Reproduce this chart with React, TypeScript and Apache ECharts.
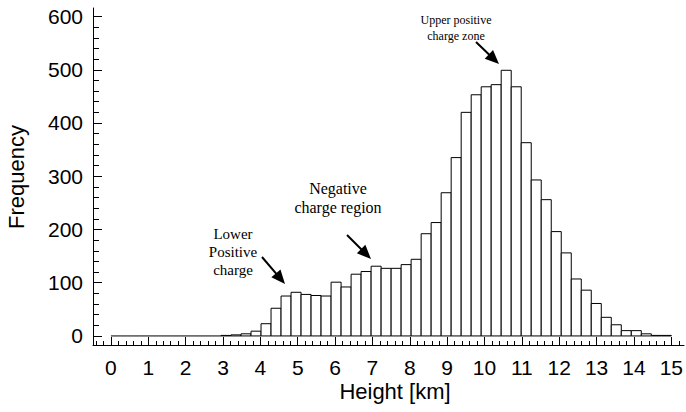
import React, { useEffect, useRef } from "react";
import * as echarts from "echarts";

// Histogram: 56 equal bins between 0 and 15 km
const binCount = 56;
const heightMinKm = 0;
const heightMaxKm = 15;
const frequencies = [
  0, 0, 0, 0, 0, 0, 0, 0, 0, 0, 0,
  1, 2, 4, 9, 23, 52, 75, 82, 78, 76, 75,
  101, 92, 116, 121, 131, 127, 127, 134, 144, 192, 213, 269,
  335, 420, 453, 468, 472, 499, 468, 363, 293, 256, 196, 156, 107,
  86, 61, 35, 21, 10, 10, 4, 1, 1,
];
const xTickLabels = [0, 1, 2, 3, 4, 5, 6, 7, 8, 9, 10, 11, 12, 13, 14, 15];
const yTickLabels = [0, 100, 200, 300, 400, 500, 600];
const xTitle = "Height [km]";
const yTitle = "Frequency";
const annotations = [
  { text: "Upper positive\ncharge zone", x: 456, y: 28, size: 12, lh: 16 },
  { text: "Negative\ncharge region", x: 338, y: 198, size: 16, lh: 19 },
  { text: "Lower\nPositive\ncharge", x: 233, y: 252, size: 15, lh: 18 },
];
const arrows = [
  { tail: [476, 42], tip: [499, 64] },
  { tail: [347, 235], tip: [371, 259] },
  { tail: [262, 257], tip: [285, 284] },
];

export default function App() {
  const ref = useRef<HTMLDivElement>(null);
  useEffect(() => {
    document.body.style.margin = "0";
    const chart = echarts.init(ref.current!, null, { renderer: "svg" });
    const binW = (heightMaxKm - heightMinKm) / binCount;
    const data = frequencies.map((f, i) => [heightMinKm + i * binW, heightMinKm + (i + 1) * binW, f]);
    const xMin = -0.48, xMax = 15.34, yMin = -17, yMax = 616;
    const xMinor: number[] = [];
    for (let i = -2; i <= 76; i++) xMinor.push(Math.round(i * 2) / 10);
    const yMinor: number[] = [];
    for (let i = 0; i <= 30; i++) yMinor.push(i * 20);

    const graphics: any[] = [];
    annotations.forEach((a) => {
      graphics.push({
        type: "text", x: a.x, y: a.y,
        style: {
          text: a.text, textAlign: "center", textVerticalAlign: "middle",
          fontFamily: "Liberation Serif", fontSize: a.size, lineHeight: a.lh, fill: "#000",
        },
      });
    });
    arrows.forEach((ar) => {
      const dx = ar.tip[0] - ar.tail[0], dy = ar.tip[1] - ar.tail[1];
      const L = Math.sqrt(dx * dx + dy * dy);
      const ux = dx / L, uy = dy / L;
      const len = 14, half = 6;
      const bx = ar.tip[0] - ux * len, by = ar.tip[1] - uy * len;
      graphics.push({
        type: "line",
        shape: { x1: ar.tail[0], y1: ar.tail[1], x2: bx + ux * 2, y2: by + uy * 2 },
        style: { stroke: "#000", lineWidth: 2 },
      });
      graphics.push({
        type: "polygon",
        shape: { points: [[ar.tip[0], ar.tip[1]], [bx - uy * half, by + ux * half], [bx + uy * half, by - ux * half]] },
        style: { fill: "#000" },
      });
    });
    graphics.push({
      type: "text", x: 395, y: 391,
      style: { text: xTitle, textAlign: "center", textVerticalAlign: "middle", fontFamily: "Liberation Sans", fontSize: 22, fill: "#000" },
    });
    graphics.push({
      type: "text", x: 16, y: 177, rotation: Math.PI / 2,
      style: { text: yTitle, textAlign: "center", textVerticalAlign: "middle", fontFamily: "Liberation Sans", fontSize: 22, fill: "#000" },
    });

    const baseX = { type: "value", min: xMin, max: xMax, position: "bottom", splitLine: { show: false } };
    const baseY = { type: "value", min: yMin, max: yMax, position: "left", splitLine: { show: false } };

    chart.setOption({
      animation: false,
      grid: { left: 93, right: 1, top: 8, bottom: 67, containLabel: false },
      xAxis: [
        {
          ...baseX,
          axisLine: { show: true, onZero: false, lineStyle: { color: "#000", width: 1 } },
          axisTick: { show: true, inside: true, length: 8, customValues: xTickLabels, lineStyle: { color: "#000" } },
          axisLabel: { show: true, customValues: xTickLabels, margin: 12, fontSize: 21, color: "#000", fontFamily: "Liberation Sans" },
        },
        {
          ...baseX,
          axisLine: { show: false, onZero: false },
          axisTick: { show: true, inside: true, length: 4, customValues: xMinor, lineStyle: { color: "#000" } },
          axisLabel: { show: false },
        },
      ],
      yAxis: [
        {
          ...baseY,
          axisLine: { show: true, onZero: false, lineStyle: { color: "#000", width: 1 } },
          axisTick: { show: true, inside: true, length: 9, customValues: yTickLabels, lineStyle: { color: "#000" } },
          axisLabel: { show: true, customValues: yTickLabels, margin: 10, fontSize: 21, color: "#000", fontFamily: "Liberation Sans" },
        },
        {
          ...baseY,
          axisLine: { show: false, onZero: false },
          axisTick: { show: true, inside: true, length: 6, customValues: yMinor, lineStyle: { color: "#000" } },
          axisLabel: { show: false },
        },
      ],
      series: [
        {
          type: "custom",
          xAxisIndex: 0,
          yAxisIndex: 0,
          encode: { x: [0, 1], y: 2 },
          data,
          renderItem: (params: any, api: any) => {
            const x0 = api.value(0), x1 = api.value(1), v = api.value(2);
            const p0 = api.coord([x0, v]);
            const p1 = api.coord([x1, 0]);
            if (v === 0) {
              return {
                type: "line",
                shape: { x1: p0[0], y1: p1[1], x2: p1[0], y2: p1[1] },
                style: { stroke: "#000", lineWidth: 1 },
              };
            }
            return {
              type: "rect",
              shape: { x: p0[0], y: p0[1], width: p1[0] - p0[0], height: p1[1] - p0[1] },
              style: { fill: "#fff", stroke: "#000", lineWidth: 1 },
            };
          },
        },
      ],
      graphic: graphics,
    });
    return () => chart.dispose();
  }, []);
  return <div ref={ref} style={{ width: 686, height: 412 }} />;
}
